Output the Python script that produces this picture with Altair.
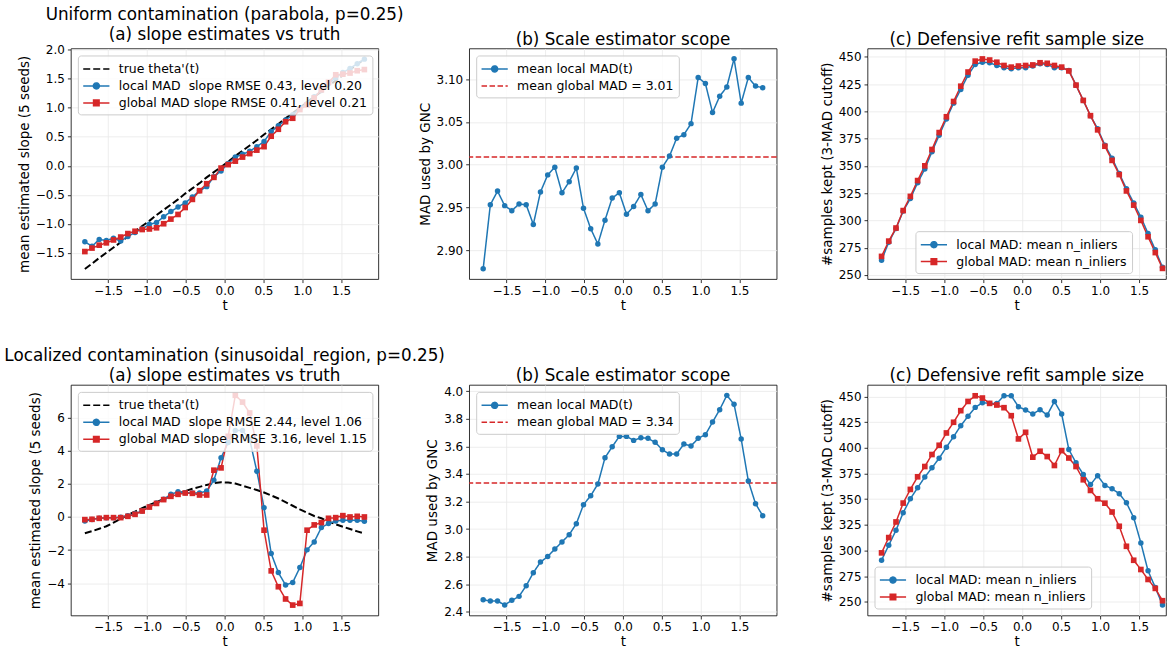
import altair as alt
import pandas as pd

FONT = "DejaVu Sans"
BLUE = "#1f77b4"
RED = "#d62728"
BLACK = "#000000"

T = [-1.800, -1.708, -1.615, -1.523, -1.431, -1.338, -1.246, -1.154, -1.062, -0.969,
     -0.877, -0.785, -0.692, -0.600, -0.508, -0.415, -0.323, -0.231, -0.138, -0.046,
     0.046, 0.138, 0.231, 0.323, 0.415, 0.508, 0.600, 0.692, 0.785, 0.877,
     0.969, 1.062, 1.154, 1.246, 1.338, 1.431, 1.523, 1.615, 1.708, 1.800]

# ---- top row: uniform contamination ----
TOP_TRUTH = [-1.78, -1.69, -1.59, -1.50, -1.41, -1.32, -1.22, -1.13, -1.04, -0.95,
             -0.85, -0.76, -0.67, -0.58, -0.48, -0.39, -0.30, -0.20, -0.11, -0.02,
             0.07, 0.17, 0.26, 0.35, 0.44, 0.54, 0.63, 0.72, 0.82, 0.91,
             1.00, 1.10, 1.19, 1.28, 1.38, 1.47, 1.56, 1.66, 1.75, 1.84]
TOP_LOCAL_SLOPE = [-1.31, -1.39, -1.27, -1.29, -1.25, -1.30, -1.22, -1.15, -1.09, -1.01,
                   -0.98, -0.88, -0.79, -0.71, -0.64, -0.54, -0.43, -0.36, -0.19, -0.09,
                   0.04, 0.15, 0.20, 0.25, 0.33, 0.42, 0.59, 0.69, 0.79, 0.88,
                   0.99, 1.07, 1.19, 1.30, 1.42, 1.52, 1.61, 1.68, 1.76, 1.84]
TOP_GLOBAL_SLOPE = [-1.48, -1.42, -1.37, -1.33, -1.28, -1.23, -1.17, -1.13, -1.10, -1.09,
                    -1.07, -1.00, -0.92, -0.84, -0.72, -0.58, -0.43, -0.31, -0.20, -0.04,
                    0.02, 0.08, 0.15, 0.21, 0.27, 0.33, 0.51, 0.63, 0.76, 0.82,
                    0.97, 1.05, 1.17, 1.31, 1.44, 1.57, 1.58, 1.60, 1.64, 1.66]
TOP_LOCAL_MAD = [2.878, 2.953, 2.969, 2.952, 2.946, 2.954, 2.953, 2.930, 2.968, 2.988,
                 2.997, 2.967, 2.980, 2.996, 2.949, 2.925, 2.907, 2.935, 2.961, 2.967,
                 2.942, 2.951, 2.965, 2.946, 2.954, 2.997, 3.010, 3.031, 3.035, 3.048,
                 3.102, 3.095, 3.061, 3.080, 3.091, 3.124, 3.072, 3.102, 3.092, 3.090]
TOP_GLOBAL_MAD = 3.009
TOP_LOCAL_N = [263.5, 280, 292.5, 308.5, 320, 334.5, 347, 363, 378, 393,
               407.5, 420, 433, 443, 445, 444.5, 442, 440, 439, 440,
               440, 441.5, 443.5, 443, 440, 440, 437.5, 424, 410, 396,
               384, 369, 357, 343, 329, 316, 303, 288, 273, 257]
TOP_GLOBAL_N = [267, 281, 293, 309, 322, 336.5, 350, 365, 380.5, 395,
                409, 423, 436, 446, 448, 447, 445, 442, 440.5, 441.5,
                442, 442.5, 444.5, 444, 442, 440.5, 437, 424, 410, 396,
                383, 368, 355, 342, 327, 314, 300, 285, 270.5, 256]

# ---- bottom row: localized contamination ----
BOT_TRUTH = [-0.98, -0.86, -0.71, -0.56, -0.34, -0.11, 0.12, 0.33, 0.53, 0.73,
             0.90, 1.07, 1.25, 1.41, 1.56, 1.71, 1.82, 1.94, 2.05, 2.10,
             2.08, 2.02, 1.89, 1.76, 1.63, 1.48, 1.30, 1.12, 0.90, 0.68,
             0.46, 0.26, 0.06, -0.08, -0.28, -0.44, -0.59, -0.73, -0.87, -1.00]
BOT_LOCAL_SLOPE = [-0.25, -0.15, -0.07, -0.05, -0.04, -0.01, 0.08, 0.20, 0.36, 0.62,
                   0.84, 1.08, 1.37, 1.53, 1.47, 1.45, 1.45, 1.57, 2.23, 3.58,
                   4.50, 5.23, 5.23, 4.68, 2.77, 0.56, -2.21, -3.36, -4.12, -3.96,
                   -3.06, -1.99, -1.51, -0.64, -0.40, -0.24, -0.20, -0.20, -0.20, -0.26]
BOT_GLOBAL_SLOPE = [-0.16, -0.14, -0.08, -0.04, -0.04, -0.04, 0.04, 0.16, 0.36, 0.60,
                    0.82, 1.05, 1.25, 1.37, 1.45, 1.43, 1.33, 1.33, 2.83, 2.97,
                    4.88, 7.36, 6.95, 6.29, 4.30, -0.80, -3.26, -4.22, -4.96, -5.33,
                    -5.23, -0.80, -0.48, -0.34, -0.08, -0.04, 0.08, 0.00, 0.04, 0.00]
BOT_LOCAL_MAD = [2.487, 2.477, 2.477, 2.448, 2.482, 2.511, 2.588, 2.683, 2.760, 2.800,
                 2.855, 2.906, 2.959, 3.039, 3.177, 3.242, 3.327, 3.518, 3.598, 3.673,
                 3.673, 3.644, 3.663, 3.659, 3.630, 3.576, 3.545, 3.545, 3.617, 3.603,
                 3.659, 3.685, 3.777, 3.867, 3.971, 3.906, 3.654, 3.349, 3.184, 3.097]
BOT_GLOBAL_MAD = 3.334
BOT_LOCAL_N = [290.5, 305, 319.6, 336.7, 350.3, 361, 371.4, 380.4, 389.8, 400.5,
               410.8, 421.5, 430.6, 439.3, 443.9, 443.2, 443.2, 450.6, 450.6, 440,
               436.7, 432.8, 437, 431.9, 445, 432.8, 398.2, 385.3, 374, 364.2,
               372.7, 363.3, 360, 355.2, 346.4, 331.9, 307.3, 280.1, 263.9, 246.8]
BOT_GLOBAL_N = [297.6, 312.5, 327.7, 346.1, 359.4, 371.7, 381.7, 393.4, 402.4, 414.4,
                424.8, 436.1, 445.1, 450.6, 448.4, 443.2, 441.6, 439, 431.2, 408.6,
                415, 390.8, 396.6, 391.4, 382.7, 397.2, 390, 381.7, 368.8, 358.4,
                350.3, 346, 337.4, 323.5, 304, 290.4, 281.4, 271.7, 263, 251]

X_TICKS = [-1.5, -1.0, -0.5, 0.0, 0.5, 1.0, 1.5]

# legend symbol paths: line + marker (matplotlib style handles)
P_LINE = "M-1.75,0H1.75"
P_CIRCLE = "M-1.75,0H1.75M-0.4,0A0.4,0.4 0 1,0 0.4,0A0.4,0.4 0 1,0 -0.4,0Z"
P_SQUARE = "M-1.75,0H1.75M-0.37,-0.37H0.37V0.37H-0.37Z"

SOLID = [1, 0]
DASH_TRUTH = [7, 3]
DASH_RULE = [5.5, 2.5]

H = 231


def minus_expr(fmt):
    return "replace(format(datum.value, '" + fmt + "'), '-', '\u2212')"


def make_legend(**kw):
    base = dict(title=None, labelFont=FONT, labelFontSize=12.5, labelColor="black",
                labelLimit=500, symbolSize=225, symbolStrokeWidth=1.5, symbolOffset=5,
                labelOffset=14, padding=5, rowPadding=2,
                fillColor="rgba(255,255,255,0.8)", strokeColor="#cccccc",
                cornerRadius=3)
    base.update(kw)
    return alt.Legend(**base)


def series_df(label, values):
    return pd.DataFrame({"t": T, "v": values, "s": [label] * len(T)})


def panel(entries, title, ytitle, yfmt, yticks, ydom, xdom, width, legend):
    labels = [e["label"] for e in entries]
    col = alt.Scale(domain=labels, range=[e["color"] for e in entries])
    dsh = alt.Scale(domain=labels, range=[e["dash"] for e in entries])
    shp = alt.Scale(domain=labels, range=[e["path"] for e in entries])
    x = alt.X("t:Q", scale=alt.Scale(domain=xdom, nice=False, zero=False),
              axis=alt.Axis(values=X_TICKS, labelExpr=minus_expr(".1f"), title="t",
                            titlePadding=2))
    y = alt.Y("v:Q", scale=alt.Scale(domain=ydom, nice=False, zero=False),
              axis=alt.Axis(values=yticks, labelExpr=minus_expr(yfmt), title=ytitle))
    stroke = alt.Stroke("s:N", scale=col, legend=legend)
    sdash = alt.StrokeDash("s:N", scale=dsh, legend=legend)
    fill = alt.Fill("s:N", scale=col, legend=legend)
    shape = alt.Shape("s:N", scale=shp, legend=legend)

    layers = []
    all_df = []
    for e in entries:
        if e["kind"] == "rule":
            rdf = pd.DataFrame({"v": [e["values"]], "s": [e["label"]]})
            layers.append(alt.Chart(rdf).mark_rule(strokeWidth=1.5).encode(
                y=y, stroke=stroke, strokeDash=sdash))
        else:
            d = series_df(e["label"], e["values"])
            all_df.append(d)
            layers.append(alt.Chart(d).mark_line(strokeWidth=e["width"]).encode(
                x=x, y=y, stroke=stroke, strokeDash=sdash))
    for e in entries:
        if e.get("marker"):
            d = series_df(e["label"], e["values"])
            size = 30 if e["marker"] == "circle" else 32
            layers.append(alt.Chart(d).mark_point(
                shape=e["marker"], filled=True, size=size, opacity=1).encode(
                x=x, y=y, fill=fill))
    # carrier for the legend's symbol shapes (draws nothing)
    layers.append(alt.Chart(all_df[0]).transform_filter("false").mark_point(
        filled=True, opacity=1).encode(x=x, y=y, shape=shape, fill=fill))

    return alt.layer(*layers).properties(width=width, height=H, title=title)


def slope_panel(truth, local, glob, lab_local, lab_global, ydom, yticks, yfmt, title):
    entries = [
        dict(label="true theta'(t)", kind="truth", values=truth, color=BLACK,
             dash=DASH_TRUTH, path=P_LINE, width=2),
        dict(label=lab_local, kind="line", values=local, color=BLUE, dash=SOLID,
             path=P_CIRCLE, width=1.5, marker="circle"),
        dict(label=lab_global, kind="line", values=glob, color=RED, dash=SOLID,
             path=P_SQUARE, width=1.5, marker="square"),
    ]
    return panel(entries, title, "mean estimated slope (5 seeds)", yfmt, yticks, ydom,
                 [-1.98, 1.98], 308, make_legend(orient="top-left", offset=7))


def mad_panel(local, gmad, lab_global, ydom, yticks, yfmt, title):
    entries = [
        dict(label="mean local MAD(t)", kind="line", values=local, color=BLUE, dash=SOLID,
             path=P_CIRCLE, width=1.5, marker="circle"),
        dict(label=lab_global, kind="rule", values=gmad, color=RED, dash=DASH_RULE,
             path=P_LINE),
    ]
    return panel(entries, title, "MAD used by GNC", yfmt, yticks, ydom,
                 [-1.98, 1.98], 308, make_legend(orient="top-left", offset=7))


def n_panel(local, glob, ydom, legend, title):
    entries = [
        dict(label="local MAD: mean n_inliers", kind="line", values=local, color=BLUE,
             dash=SOLID, path=P_CIRCLE, width=1.5, marker="circle"),
        dict(label="global MAD: mean n_inliers", kind="line", values=glob, color=RED,
             dash=SOLID, path=P_SQUARE, width=1.5, marker="square"),
    ]
    return panel(entries, title, "#samples kept (3-MAD cutoff)", "d",
                 [250, 275, 300, 325, 350, 375, 400, 425, 450], ydom,
                 [-1.98, 1.845], 299, legend)


def ttl(text):
    return alt.Title(text=text, font=FONT, fontSize=16.8, fontWeight="normal",
                     color="black", offset=0, lineHeight=20, anchor="middle")


a1 = slope_panel(TOP_TRUTH, TOP_LOCAL_SLOPE, TOP_GLOBAL_SLOPE,
                 "local MAD\u00a0 slope RMSE 0.43, level 0.20",
                 "global MAD slope RMSE 0.41, level 0.21",
                 [-1.955, 2.024], [-1.5, -1.0, -0.5, 0.0, 0.5, 1.0, 1.5, 2.0], ".1f",
                 ttl(["Uniform contamination (parabola, p=0.25)",
                      "(a) slope estimates vs truth"]))
b1 = mad_panel(TOP_LOCAL_MAD, TOP_GLOBAL_MAD, "mean global MAD = 3.01",
               [2.866, 3.136], [2.90, 2.95, 3.00, 3.05, 3.10], ".2f",
               ttl("(b) Scale estimator scope"))
c1 = n_panel(TOP_LOCAL_N, TOP_GLOBAL_N, [246.2, 457.6],
             make_legend(orient="none", legendX=48, legendY=183),
             ttl("(c) Defensive refit sample size"))

a2 = slope_panel(BOT_TRUTH, BOT_LOCAL_SLOPE, BOT_GLOBAL_SLOPE,
                 "local MAD\u00a0 slope RMSE 2.44, level 1.06",
                 "global MAD slope RMSE 3.16, level 1.15",
                 [-5.96, 7.99], [-4, -2, 0, 2, 4, 6], "d",
                 ttl(["Localized contamination (sinusoidal_region, p=0.25)",
                      "(a) slope estimates vs truth"]))
b2 = mad_panel(BOT_LOCAL_MAD, BOT_GLOBAL_MAD, "mean global MAD = 3.34",
               [2.372, 4.047], [2.4, 2.6, 2.8, 3.0, 3.2, 3.4, 3.6, 3.8, 4.0], ".1f",
               ttl("(b) Scale estimator scope"))
c2 = n_panel(BOT_LOCAL_N, BOT_GLOBAL_N, [236.6, 461.2],
             make_legend(orient="bottom-left", offset=7),
             ttl("(c) Defensive refit sample size"))

chart = alt.concat(a1, b1, c1, a2, b2, c2, columns=3,
                   spacing={"row": 106, "column": 91}, bounds="flush").resolve_scale(
    x="independent", y="independent", stroke="independent", fill="independent",
    shape="independent", strokeDash="independent"
).resolve_legend(
    stroke="independent", fill="independent", shape="independent",
    strokeDash="independent"
).properties(
    padding={"left": 4, "top": 6, "right": 0, "bottom": 0}
).configure(
    font=FONT, background="white"
).configure_view(
    stroke="black", strokeWidth=0.8
).configure_axis(
    labelFont=FONT, labelFontSize=12, labelColor="black",
    titleFont=FONT, titleFontSize=13.5, titleFontWeight="normal", titleColor="black",
    tickColor="black", tickSize=3.5, tickWidth=0.8, domain=False,
    gridColor="#e8e8e8", gridWidth=0.8, labelPadding=3, titlePadding=4,
    labelFlush=False, labelOverlap=False
)

chart.save("out.html", embed_options={"renderer": "svg", "actions": False})
